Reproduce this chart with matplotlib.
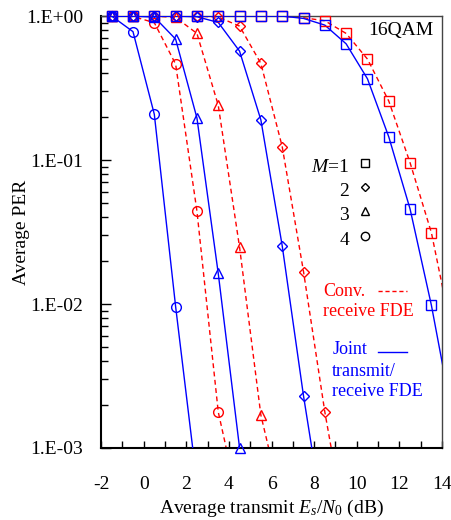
import numpy as np
import matplotlib
matplotlib.use("Agg")
import matplotlib.pyplot as plt
from matplotlib.ticker import FixedLocator, LogLocator, NullFormatter

plt.rcParams.update({
    "font.family": ["Liberation Serif", "DejaVu Serif"],
    "mathtext.fontset": "custom",
    "mathtext.rm": "Liberation Serif",
    "mathtext.it": "Liberation Serif:italic",
    "font.size": 14,
    "axes.unicode_minus": False,
})

# Es/N0 sample points (dB)
snr = [-1.5, -0.5, 0.5, 1.5, 2.5, 3.5, 4.5, 5.5, 6.5, 7.5,
       8.5, 9.5, 10.5, 11.5, 12.5, 13.5, 14.5]

# Conventional receive FDE (red dashed)
conv_m1 = [1.0, 1.0, 1.0, 1.0, 1.0, 1.0, 1.0, 1.0, 1.0, 0.975,
           0.928, 0.758, 0.503, 0.257, 0.0958, 0.0313, 0.0059]
conv_m2 = [1.0, 1.0, 1.0, 1.0, 1.0, 0.985, 0.852, 0.469, 0.124, 0.0168,
           0.00178, 0.00026]
conv_m3 = [1.0, 1.0, 1.0, 0.98, 0.758, 0.24, 0.0248, 0.00169, 0.0004]
conv_m4 = [1.0, 0.995, 0.90, 0.464, 0.0442, 0.00178, 0.00038]

# Joint transmit/receive FDE (blue solid)
joint_m1 = [1.0, 1.0, 1.0, 1.0, 1.0, 1.0, 1.0, 1.0, 1.0, 0.964,
            0.866, 0.642, 0.367, 0.145, 0.0457, 0.0098, 0.0016]
joint_m2 = [1.0, 1.0, 1.0, 1.0, 0.99, 0.904, 0.571, 0.19, 0.0254, 0.0023,
            0.00027]
joint_m3 = [1.0, 1.0, 0.985, 0.692, 0.196, 0.0163, 0.00100, 0.00006]
joint_m4 = [1.0, 0.78, 0.208, 0.0096, 0.00057]

markers = ["s", "D", "^", "o"]
msizes = [7, 5, 7, 7]
RED = "#ff0000"
BLUE = "#0000ff"

fig = plt.figure(figsize=(4.52, 5.2), dpi=100)
ax = fig.add_axes([0.2235, 0.1385, 0.7545, 0.8305])


def draw(vals, color, ls, mk, ms):
    x = np.array(snr[:len(vals)])
    y = np.array(vals)
    if ls == "--":
        ax.plot(x, y, color=color, lw=1.0, ls=(0, (3.5, 2.5)), zorder=2)
    else:
        ax.plot(x, y, color=color, lw=1.0, ls="-", zorder=3)
    keep = (y >= 1e-3 - 1e-9) & (x <= 14)
    ax.plot(x[keep], y[keep], ls="none", marker=mk, ms=ms, mfc="none",
            mec=color, mew=1.0, clip_on=False, zorder=4)


for vals, mk, ms in zip([conv_m1, conv_m2, conv_m3, conv_m4], markers, msizes):
    draw(vals, RED, "--", mk, ms)
for vals, mk, ms in zip([joint_m1, joint_m2, joint_m3, joint_m4], markers, msizes):
    draw(vals, BLUE, "-", mk, ms)

ax.set_yscale("log")
ax.set_xlim(-2, 14)
ax.set_ylim(1e-3, 1)
ax.xaxis.set_major_locator(FixedLocator(np.arange(-2, 15, 2)))
ax.xaxis.set_minor_locator(FixedLocator(np.arange(-2, 15, 1)))
ax.set_yticks([1e-3, 1e-2, 1e-1, 1])
ax.set_yticklabels(["1.E-03", "1.E-02", "1.E-01", "1.E+00"])
ax.yaxis.set_minor_locator(LogLocator(base=10, subs=np.arange(2, 10)))
ax.yaxis.set_minor_formatter(NullFormatter())
ax.tick_params(axis="x", which="both", direction="in", length=5, width=1,
               pad=20, labelsize=14, top=False)
ax.tick_params(axis="y", which="major", direction="in", length=7, width=1,
               pad=13, labelsize=14, right=False)
ax.tick_params(axis="y", which="minor", direction="in", length=5, width=1,
               right=False)
for side in ["left", "bottom"]:
    ax.spines[side].set_linewidth(1.5)
for side in ["top", "right"]:
    ax.spines[side].set_linewidth(1.0)
    ax.spines[side].set_color("#444444")

ax.set_xlabel(r"Average transmit $E_s/N_0$ (dB)", fontsize=14, labelpad=4)
ax.set_ylabel("Average PER", fontsize=14, va="center")
ax.yaxis.set_label_coords(-0.232, 0.5)

ax.text(0.976, 0.966, "16QAM", transform=ax.transAxes, ha="right",
        va="center", fontsize=14)

# marker legend
legend_labels = [r"$M$=1", "2", "3", "4"]
legend_y = [0.650, 0.595, 0.539, 0.481]
for lab, yy, mk, ms in zip(legend_labels, legend_y, markers, msizes):
    ax.text(0.727, yy, lab, transform=ax.transAxes, ha="right", va="center",
            fontsize=14)
    ax.plot([0.774], [yy + 0.01], transform=ax.transAxes, marker=mk, ms=ms - 1,
            mfc="none", mec="black", mew=1.0, ls="none")

# line-style legend
ax.text(0.652, 0.362, "Conv.", transform=ax.transAxes, color=RED,
        ha="left", va="center", fontsize=13)
ax.text(0.652, 0.3155, "receive FDE", transform=ax.transAxes, color=RED,
        ha="left", va="center", fontsize=13)
ax.plot([0.812, 0.897], [0.364, 0.364], transform=ax.transAxes, color=RED,
        lw=1.0, ls=(0, (3, 2)))
ax.text(0.678, 0.227, "Joint", transform=ax.transAxes, color=BLUE,
        ha="left", va="center", fontsize=13)
ax.text(0.678, 0.1766, "transmit/", transform=ax.transAxes, color=BLUE,
        ha="left", va="center", fontsize=13)
ax.text(0.678, 0.130, "receive FDE", transform=ax.transAxes, color=BLUE,
        ha="left", va="center", fontsize=13)
ax.plot([0.812, 0.897], [0.2215, 0.2215], transform=ax.transAxes, color=BLUE,
        lw=1.0)

fig.savefig("out.png", dpi=100)
